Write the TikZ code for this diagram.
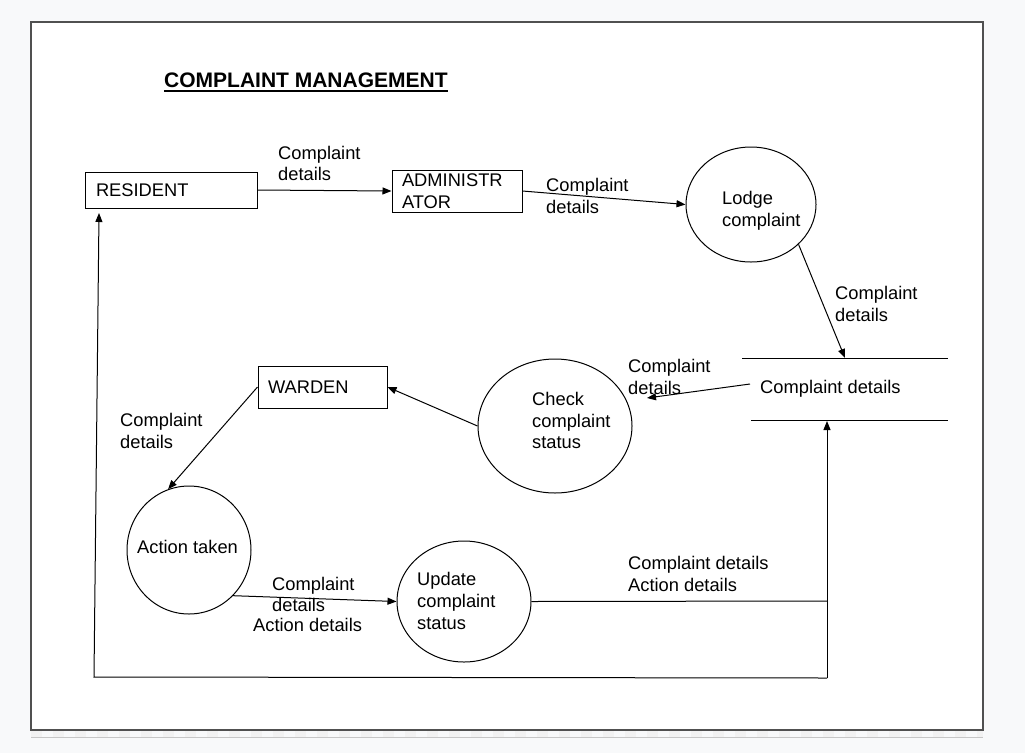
\documentclass[tikz,border=0pt]{standalone}
\usepackage{fontspec}
\setmainfont{Liberation Sans}
\usetikzlibrary{arrows.meta,shapes.geometric}
\definecolor{pagebg}{HTML}{F8F9FA}
\definecolor{frame}{HTML}{505050}
\begin{document}
\begin{tikzpicture}[x=1pt,y=-1pt,
  every node/.style={font=\fontsize{18.3}{21.7}\selectfont, inner sep=0pt},
  lbl/.style={anchor=west, align=left},
  box/.style={draw, rectangle, line width=1pt, anchor=center, align=left},
  proc/.style={draw, ellipse, line width=1pt},
  flow/.style={line width=1pt, -{Triangle[length=9pt,width=7pt]}},
  plain/.style={line width=1pt}]
\useasboundingbox (0,0) rectangle (1025,753);
\fill[pagebg] (0,0) rectangle (1025,753);
\draw[gray!10, line width=6pt, dash pattern=on 11pt off 11pt] (31,734) -- (983,734);
\draw[gray!45, line width=1pt] (31,737.5) -- (983,737.5);
\filldraw[fill=white, draw=frame, line width=1.5pt] (31,22) rectangle (983,730);

% title
\node[anchor=west, font=\bfseries\fontsize{21}{25}\selectfont] (title) at (164,80) {COMPLAINT MANAGEMENT};
\draw[line width=1.6pt] ([yshift=-4pt]title.base west) -- ([yshift=-4pt]title.base east);

% entities
\node[box, minimum width=172pt, minimum height=36pt, text width=150pt] (res) at (171,190) {RESIDENT};
\node[box, minimum width=130pt, minimum height=42pt, text width=110pt] (adm) at (457,191) {ADMINISTR\\ATOR};
\node[box, minimum width=129pt, minimum height=42pt, text width=109pt] (war) at (322.5,387) {WARDEN};

% processes
\node[proc, minimum width=130pt, minimum height=115pt] (lodge) at (751,204.5) {};
\node[lbl] (lodgeT) at (722,211) {Lodge\\complaint};
\node[proc, minimum width=154pt, minimum height=134pt] (chk) at (555,426) {};
\node[lbl] (chkT) at (532,420.5) {Check\\complaint\\status};
\node[proc, minimum width=124pt, minimum height=128pt] (act) at (189,550) {};
\node[lbl] (actT) at (137,547) {Action taken};
\node[proc, minimum width=134pt, minimum height=121pt] (upd) at (464,601.5) {};
\node[lbl] (updT) at (417,601) {Update\\complaint\\status};

% data store
\draw[plain] (742,358) -- (948,358);
\draw[plain] (751,420) -- (948,420);
\node[anchor=west, inner xsep=10pt] (store) at (750,389) {Complaint details};

% coordinates
\coordinate (storeIn) at (845,358);
\coordinate (storeUp) at (827,421);
\coordinate (chkIn) at (647,398);
\coordinate (J1) at (827,601);
\coordinate (J2) at (827,678);
\coordinate (J3) at (94,677);
\coordinate (resIn) at (99,213);

% flows
\draw[flow] (res.east) -- (adm.west);
\draw[flow] (adm.east) -- (lodge.west);
\draw[flow] (lodge.-40) -- (storeIn);
\draw[flow] ([yshift=5pt]store.west) -- (chkIn);
\draw[flow] (chk.west) -- (war.east);
\draw[flow] (war.west) -- (act.109);
\draw[flow] (act.-46) -- (upd.west);
\draw[plain] (upd.east) -- (J1);
\draw[flow] (J2) -- (storeUp);
\draw[flow] (J2) -- (J3) -- (resIn);

% flow labels
\node[lbl] (l1) at (278,163.5) {Complaint\\details};
\node[lbl] (l2) at (546,196) {Complaint\\details};
\node[lbl] (l3) at (835,304) {Complaint\\details};
\node[lbl] (l4) at (628,377) {Complaint\\details};
\node[lbl] (l5) at (120,431) {Complaint\\details};
\node[lbl] (l6a) at (272,594.5) {Complaint\\details};
\node[lbl] (l6b) at (253,625) {Action details};
\node[lbl] (l7) at (628,574) {Complaint details\\Action details};
\end{tikzpicture}
\end{document}
